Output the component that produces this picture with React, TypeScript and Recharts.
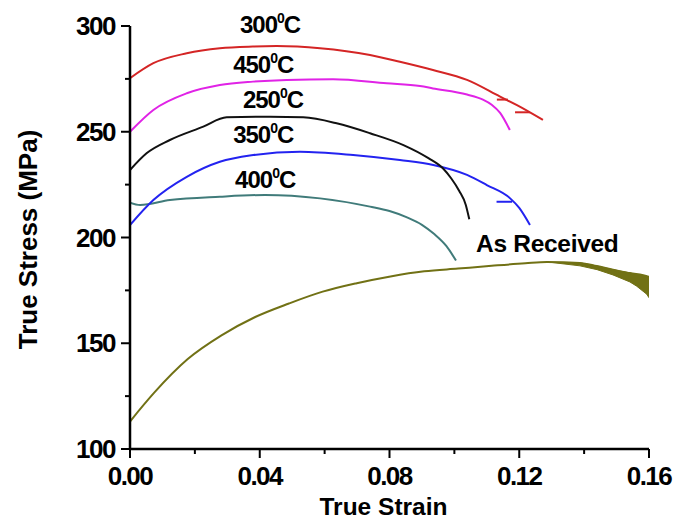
import React from 'react';
import { ComposedChart, Line, Area, XAxis, YAxis, ReferenceDot, Label } from 'recharts';

// ---------- data ----------
const strain300 = [0, 0.0072, 0.0175, 0.0277, 0.0379, 0.0452, 0.0586, 0.074, 0.0832, 0.0934, 0.1039, 0.1141, 0.1193, 0.1273];
const stress300 = [275.3, 282.4, 287.1, 289.5, 290.3, 290.5, 289.5, 286.3, 283.1, 279.2, 274.5, 266.6, 262.6, 255.6];

const strain450 = [0, 0.0072, 0.0175, 0.0277, 0.0379, 0.0483, 0.0626, 0.0791, 0.0894, 0.0934, 0.1039, 0.1088, 0.1115, 0.1141, 0.1171];
const stress450 = [250.0, 260.3, 268.2, 272.1, 273.7, 274.5, 274.8, 272.9, 271.6, 270.5, 267.6, 265.2, 262.8, 258.9, 250.8];

const strain250 = [0, 0.0051, 0.0123, 0.0226, 0.0298, 0.0432, 0.0534, 0.0637, 0.074, 0.0843, 0.092, 0.0966, 0.099, 0.1015, 0.1035, 0.1046];
const stress250 = [231.9, 239.8, 246.1, 252.4, 256.8, 257.1, 256.8, 254.0, 249.3, 243.7, 237.5, 232.5, 228.0, 222.0, 215.5, 208.6];

const strain350 = [0, 0.0072, 0.0175, 0.0277, 0.038, 0.0524, 0.0688, 0.0832, 0.0935, 0.1039, 0.11, 0.1172, 0.12, 0.1233];
const stress350 = [205.9, 217.7, 228.7, 235.8, 239.0, 240.6, 239.0, 236.6, 234.3, 229.6, 224.8, 218.5, 214.0, 205.9];

const strain400 = [0, 0.0031, 0.0123, 0.0277, 0.0416, 0.0586, 0.074, 0.08, 0.0854, 0.09, 0.0938, 0.0975, 0.1005];
const stress400 = [216.5, 215.4, 217.7, 219.3, 220.1, 218.5, 214.6, 212.5, 209.5, 206.0, 201.6, 196.0, 189.1];

const strainAR = [0, 0.0074, 0.0178, 0.0282, 0.0386, 0.049, 0.0594, 0.0699, 0.0803, 0.0907, 0.1011, 0.1115, 0.1219, 0.1285, 0.1387, 0.1439, 0.1489, 0.1541, 0.1598, 0.16];
const stressAR = [113.0, 126.5, 142.5, 153.7, 162.4, 168.8, 174.4, 178.4, 181.6, 184.0, 185.3, 186.6, 187.8, 188.4, 188.0, 186.5, 184.8, 183.2, 181.5, 181.0];

// scatter band at the end of the As Received curve
const bandStrain = [0.13, 0.1387, 0.144, 0.1489, 0.1541, 0.1562, 0.1593, 0.16];
const bandLow = [188.2, 186.6, 184.8, 182.3, 179.0, 177.0, 173.2, 171.5];
const bandHigh = [188.2, 188.0, 186.5, 184.8, 183.2, 182.6, 181.7, 181.0];

// small unloading stubs
const stub300aStrain = [0.1131, 0.1165];
const stub300aStress = [265.2, 265.2];
const stub300bStrain = [0.1187, 0.1233];
const stub300bStress = [259.2, 259.2];
const stub350Strain = [0.113, 0.1178];
const stub350Stress = [216.9, 216.9];

const xTicks = [0, 0.02, 0.04, 0.06, 0.08, 0.1, 0.12, 0.14, 0.16];
const xMajor = [0, 0.04, 0.08, 0.12, 0.16];
const yTicks = [100, 125, 150, 175, 200, 225, 250, 275, 300];
const yMajor = [100, 150, 200, 250, 300];

// series labels: [number part, anchor strain, anchor stress]
const labelTemps = ['300', '450', '250', '350', '400'];
const labelStrain = [0.0339, 0.0318, 0.0348, 0.0318, 0.0324];
const labelStress = [296.7, 277.8, 261.2, 244.7, 223.4];
const arLabel = 'As Received';
const arLabelStrain = 0.1067;
const arLabelStress = 193.1;

const COLORS = {
  c300: '#d42525',
  c450: '#e023e6',
  c250: '#111111',
  c350: '#2323f0',
  c400: '#407b7a',
  cAR: '#717115',
};

const FONT = '"Liberation Sans", Arial, Helvetica, sans-serif';

const pts = (xs: number[], ys: number[]) => xs.map((x, i) => ({ strain: x, stress: ys[i] }));
const bandData = bandStrain.map((x, i) => ({ strain: x, range: [bandLow[i], bandHigh[i]] }));

const isIn = (arr: number[], v: number) => arr.some((m) => Math.abs(m - v) < 1e-9);

const XTick = (props: any) => {
  const { x, y, payload } = props;
  const v = payload.value;
  const major = isIn(xMajor, v);
  return (
    <g>
      <line x1={x} x2={x} y1={y} y2={y + (major ? 9 : 5)} stroke="#000" strokeWidth={2} />
      {major && (
        <text x={x} y={y + 36} textAnchor="middle" fontFamily={FONT} fontWeight="bold" fontSize={26} letterSpacing={-1.5} fill="#000">
          {v.toFixed(2)}
        </text>
      )}
    </g>
  );
};

const YTick = (props: any) => {
  const { x, y, payload } = props;
  const v = payload.value;
  const major = isIn(yMajor, v);
  return (
    <g>
      <line x1={x} x2={x - (major ? 9 : 5)} y1={y} y2={y} stroke="#000" strokeWidth={2} />
      {major && (
        <text x={x - 15} y={y + 9} textAnchor="end" fontFamily={FONT} fontWeight="bold" fontSize={26} letterSpacing={-1.5} fill="#000">
          {String(v)}
        </text>
      )}
    </g>
  );
};

const tempLabel = (t: string) => (p: any) => (
  <text x={p.cx} y={p.cy} fontFamily={FONT} fontWeight="bold" fontSize={24} letterSpacing={-1} fill="#000">
    {t}
    <tspan dy={-10} fontSize={14}>0</tspan>
    <tspan dy={10}>C</tspan>
  </text>
);

const arLabelShape = (p: any) => (
  <text x={p.cx} y={p.cy} fontFamily={FONT} fontWeight="bold" fontSize={24.5} letterSpacing={-0.3} fill="#000">
    {arLabel}
  </text>
);

const YTitle = (props: any) => {
  const vb = props.viewBox || { x: 0, y: 26, width: 130, height: 423 };
  const cx = vb.x + 37;
  const cy = vb.y + vb.height / 2 + 2;
  return (
    <text x={cx} y={cy} transform={`rotate(-90, ${cx}, ${cy})`} textAnchor="middle" fontFamily={FONT} fontWeight="bold" fontSize={26} fill="#000">
      True Stress (MPa)
    </text>
  );
};

const XTitle = (props: any) => {
  const vb = props.viewBox || { x: 130, y: 449, width: 519, height: 72 };
  const cx = vb.x + vb.width / 2 - 6;
  return (
    <text x={cx} y={vb.y + 66} textAnchor="middle" fontFamily={FONT} fontWeight="bold" fontSize={24.5} fill="#000">
      True Strain
    </text>
  );
};

export default function App() {
  const lw = 2;
  return (
    <div style={{ position: 'absolute', left: 0, top: 0, width: 689, height: 521, background: '#fff' }}>
      <ComposedChart width={689} height={521} margin={{ top: 26, right: 40, bottom: 0, left: 0 }}>
        <XAxis
          type="number"
          dataKey="strain"
          domain={[0, 0.16]}
          ticks={xTicks}
          allowDataOverflow
          height={72}
          tickSize={0}
          tickMargin={0}
          tickLine={false}
          axisLine={{ stroke: '#000', strokeWidth: 2.5 }}
          tick={<XTick />}
          interval={0}
        >
          <Label content={<XTitle />} />
        </XAxis>
        <YAxis
          type="number"
          dataKey="stress"
          domain={[100, 300]}
          ticks={yTicks}
          allowDataOverflow
          width={130}
          tickSize={0}
          tickMargin={0}
          tickLine={false}
          axisLine={{ stroke: '#000', strokeWidth: 2.5 }}
          tick={<YTick />}
          interval={0}
        >
          <Label content={<YTitle />} />
        </YAxis>

        <Area data={bandData} dataKey="range" type="linear" stroke={COLORS.cAR} strokeWidth={1} fill={COLORS.cAR} fillOpacity={1} isAnimationActive={false} />
        <Line data={pts(strainAR, stressAR)} dataKey="stress" type="monotone" stroke={COLORS.cAR} strokeWidth={lw} dot={false} isAnimationActive={false} />
        <Line data={pts(strain400, stress400)} dataKey="stress" type="monotone" stroke={COLORS.c400} strokeWidth={lw} dot={false} isAnimationActive={false} />
        <Line data={pts(strain350, stress350)} dataKey="stress" type="monotone" stroke={COLORS.c350} strokeWidth={lw} dot={false} isAnimationActive={false} />
        <Line data={pts(stub350Strain, stub350Stress)} dataKey="stress" type="linear" stroke={COLORS.c350} strokeWidth={lw} dot={false} isAnimationActive={false} />
        <Line data={pts(strain250, stress250)} dataKey="stress" type="monotone" stroke={COLORS.c250} strokeWidth={lw} dot={false} isAnimationActive={false} />
        <Line data={pts(strain450, stress450)} dataKey="stress" type="monotone" stroke={COLORS.c450} strokeWidth={lw} dot={false} isAnimationActive={false} />
        <Line data={pts(strain300, stress300)} dataKey="stress" type="monotone" stroke={COLORS.c300} strokeWidth={lw} dot={false} isAnimationActive={false} />
        <Line data={pts(stub300aStrain, stub300aStress)} dataKey="stress" type="linear" stroke={COLORS.c300} strokeWidth={lw} dot={false} isAnimationActive={false} />
        <Line data={pts(stub300bStrain, stub300bStress)} dataKey="stress" type="linear" stroke={COLORS.c300} strokeWidth={lw} dot={false} isAnimationActive={false} />

        {labelTemps.map((t, i) => (
          <ReferenceDot key={t} x={labelStrain[i]} y={labelStress[i]} r={0} shape={tempLabel(t)} />
        ))}
        <ReferenceDot x={arLabelStrain} y={arLabelStress} r={0} shape={arLabelShape} />
      </ComposedChart>
    </div>
  );
}
